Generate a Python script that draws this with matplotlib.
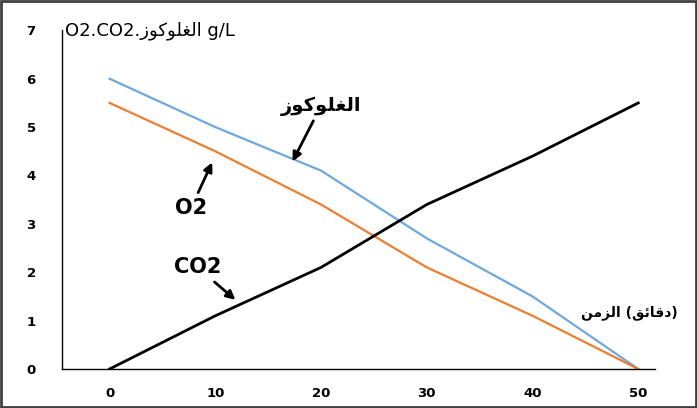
import matplotlib.pyplot as plt
from matplotlib.patches import Rectangle

minutes = [0, 10, 20, 30, 40, 50]
glucose = [6.0, 5.0, 4.1, 2.7, 1.5, 0.0]
o2 = [5.5, 4.5, 3.4, 2.1, 1.1, 0.0]
co2 = [0.0, 1.1, 2.1, 3.4, 4.4, 5.5]
y_ticks = [0, 1, 2, 3, 4, 5, 6, 7]

# Arabic words written in presentation forms, visual (left-to-right) order
glucose_ar = "\uFEAF\uFEEE\uFEDB\uFEEE\uFEE0\uFED0\uFEDF\uFE8D"
time_ar = "\uFEE6\uFEE3\uFEB0\uFEDF\uFE8D (\uFED6\uFE8B\uFE8E\uFED7\uFEA9)"

fig = plt.figure(figsize=(6.97, 4.08), dpi=100)
ax = fig.add_axes([0.089, 0.0956, 0.851, 0.83])

ax.plot(minutes, glucose, color="#6fa8dc", lw=1.6)
ax.plot(minutes, o2, color="#ed7d31", lw=1.6)
ax.plot(minutes, co2, color="black", lw=2)

ax.set_xlim(-4.5, 51.6)
ax.set_ylim(0, 7)
ax.set_xticks(minutes)
ax.set_yticks(y_ticks)
ax.tick_params(length=0, labelsize=9.5)
ax.tick_params(axis="x", pad=13)
ax.tick_params(axis="y", pad=19)
for lab in ax.get_xticklabels() + ax.get_yticklabels():
    lab.set_fontweight("bold")
for s in ["top", "right"]:
    ax.spines[s].set_visible(False)
ax.spines["left"].set_linewidth(1)
ax.spines["bottom"].set_linewidth(1)

ax.text(-4.2, 7.0, "O2.CO2." + glucose_ar + " g/L", fontsize=13, va="center",
        ha="left", clip_on=False)
ax.text(49.2, 1.16, time_ar, fontsize=10, fontweight="bold", ha="center",
        va="center", clip_on=False)

arrow = dict(arrowstyle="-|>", color="black", lw=2, mutation_scale=13,
             shrinkA=2, shrinkB=0)
ax.annotate(glucose_ar, xy=(17.3, 4.29), xytext=(20.0, 5.44), fontsize=14,
            fontweight="bold", ha="center", va="center", arrowprops=arrow)
ax.annotate("O2", xy=(9.7, 4.27), xytext=(7.7, 3.33), fontsize=15,
            fontweight="bold", ha="center", va="center", arrowprops=arrow)
ax.annotate("CO2", xy=(11.9, 1.43), xytext=(8.3, 2.1), fontsize=15,
            fontweight="bold", ha="center", va="center", arrowprops=arrow)

fig.patches.append(Rectangle((0.002, 0.003), 0.996, 0.994, transform=fig.transFigure,
                             fill=False, edgecolor="#404040", lw=2))

fig.savefig("out.png", dpi=100)
